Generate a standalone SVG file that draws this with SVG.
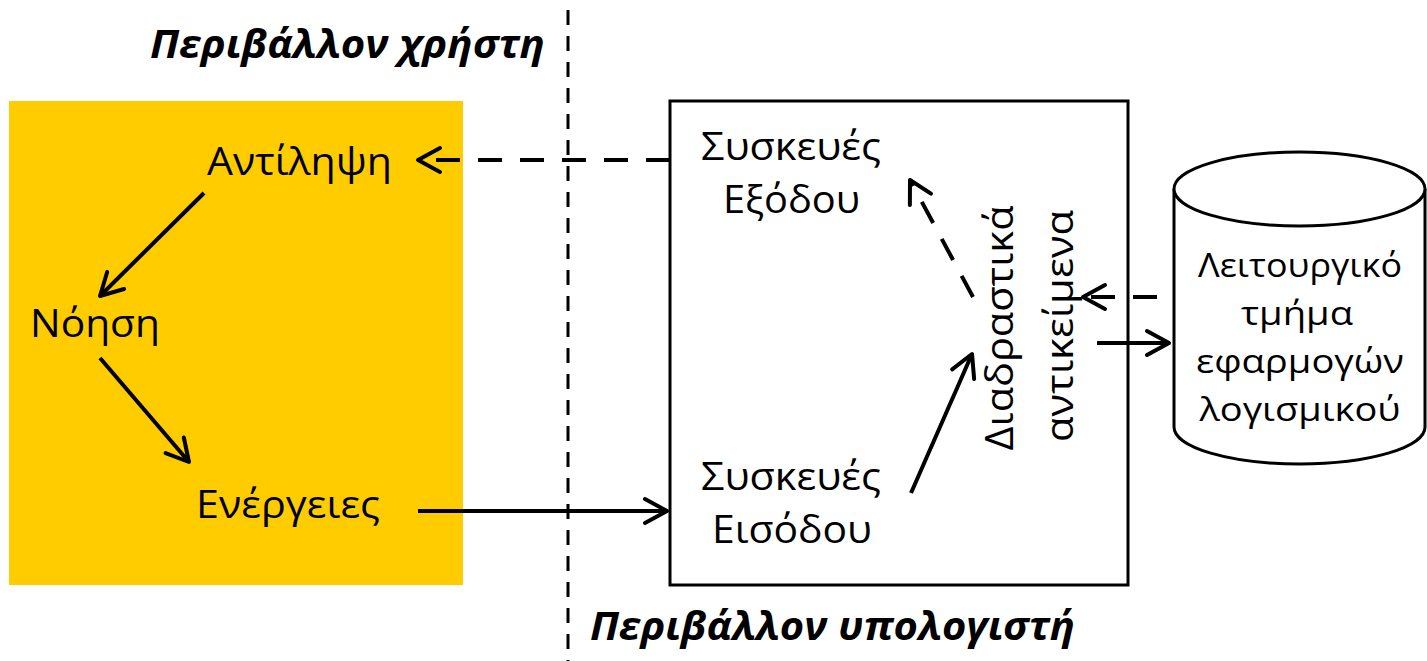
<svg xmlns="http://www.w3.org/2000/svg" width="1427" height="661" viewBox="0 0 1427 661">
  <defs>
    <style>
      .lbl { font-family: "Open Sans", "Noto Sans", sans-serif; font-size: 38px; fill: #000; }
      .sm { font-size: 32px; }
      .title { font-family: "Open Sans", "Noto Sans", sans-serif; font-size: 39px; font-weight: bold; font-style: italic; fill: #000; }
      .arr { fill: none; stroke: #000; stroke-width: 4; marker-end: url(#head); }
      .dash { stroke-dasharray: 24 18; }
    </style>
    <marker id="head" markerUnits="userSpaceOnUse" markerWidth="40" markerHeight="40" viewBox="-30 -20 40 40" refX="0" refY="0" orient="auto" overflow="visible">
      <path d="M-22,-12 L0,0 L-22,12" fill="none" stroke="#000" stroke-width="4" stroke-linecap="round" stroke-linejoin="round"/>
    </marker>
  </defs>
  <rect width="1427" height="661" fill="#fff"/>

  <g id="user-env">
    <rect x="9" y="101" width="454" height="484" fill="#FFCC00"/>
  </g>

  <g id="divider">
    <line x1="568" y1="10" x2="568" y2="661" stroke="#000" stroke-width="3" stroke-dasharray="15 11"/>
  </g>

  <g id="title-user"><text class="title" x="150" y="58" textLength="395" lengthAdjust="spacingAndGlyphs">Περιβάλλον χρήστη</text></g>
  <g id="title-computer"><text class="title" x="590" y="640" textLength="485" lengthAdjust="spacingAndGlyphs">Περιβάλλον υπολογιστή</text></g>

  <g id="computer-box">
    <rect x="670" y="101" width="458" height="484" fill="none" stroke="#000" stroke-width="3"/>
  </g>

  <g id="node-perception"><text class="lbl" x="207" y="175" textLength="185" lengthAdjust="spacingAndGlyphs">Αντίληψη</text></g>
  <g id="node-cognition"><text class="lbl" x="30" y="337" textLength="130" lengthAdjust="spacingAndGlyphs">Νόηση</text></g>
  <g id="node-actions"><text class="lbl" x="196" y="518" textLength="184" lengthAdjust="spacingAndGlyphs">Ενέργειες</text></g>

  <g id="node-output">
    <text class="lbl" x="701" y="160" textLength="180" lengthAdjust="spacingAndGlyphs">Συσκευές</text>
    <text class="lbl" x="723" y="213" textLength="137" lengthAdjust="spacingAndGlyphs">Εξόδου</text>
  </g>
  <g id="node-input">
    <text class="lbl" x="701" y="490" textLength="180" lengthAdjust="spacingAndGlyphs">Συσκευές</text>
    <text class="lbl" x="712" y="543" textLength="160" lengthAdjust="spacingAndGlyphs">Εισόδου</text>
  </g>
  <g id="node-objects">
    <text class="lbl" x="1013" y="328" text-anchor="middle" transform="rotate(-90 1013 328)" textLength="245" lengthAdjust="spacingAndGlyphs">Διαδραστικά</text>
    <text class="lbl" x="1073" y="326" text-anchor="middle" transform="rotate(-90 1073 326)" textLength="232" lengthAdjust="spacingAndGlyphs">αντικείμενα</text>
  </g>

  <g id="node-app">
    <path d="M1174,189 L1174,427 A125.5,37 0 0 0 1425,427 L1425,189" fill="#fff" stroke="#000" stroke-width="3"/>
    <ellipse cx="1299.5" cy="189" rx="125.5" ry="37" fill="#fff" stroke="#000" stroke-width="3"/>
    <text class="lbl sm" x="1300" y="277" text-anchor="middle" textLength="204" lengthAdjust="spacingAndGlyphs">Λειτουργικό</text>
    <text class="lbl sm" x="1297" y="325" text-anchor="middle" textLength="112" lengthAdjust="spacingAndGlyphs">τμήμα</text>
    <text class="lbl sm" x="1300" y="373" text-anchor="middle" textLength="208" lengthAdjust="spacingAndGlyphs">εφαρμογών</text>
    <text class="lbl sm" x="1300" y="421" text-anchor="middle" textLength="201" lengthAdjust="spacingAndGlyphs">λογισμικού</text>
  </g>

  <g id="connectors">
    <path class="arr dash" d="M670,160 L418,160"/>
    <path class="arr" d="M204,193 L100,296"/>
    <path class="arr" d="M100,358 L189,462"/>
    <path class="arr" d="M418,511 L667,511"/>
    <path class="arr" d="M911,493 L972,354"/>
    <path class="arr dash" d="M973,297 L910,180"/>
    <path class="arr dash" d="M1157,297 L1083,297"/>
    <path class="arr" d="M1097,343 L1169,343"/>
  </g>
</svg>
